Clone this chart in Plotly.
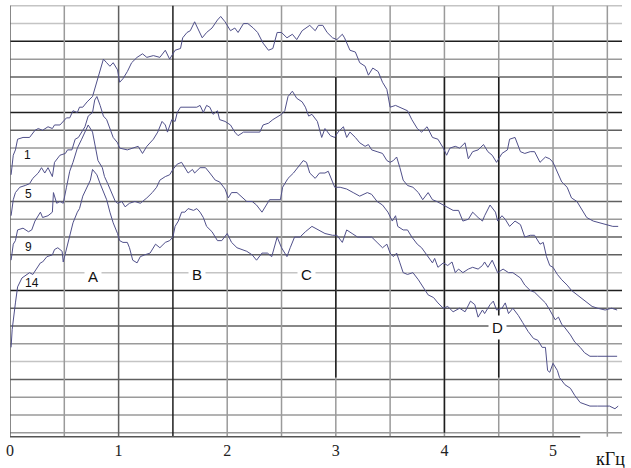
import plotly.graph_objects as go

# spectra: (frequency kHz, level in grid steps)
curve_1 = [(0.01, 14.5), (0.03, 15.6), (0.05, 15.9), (0.07, 16.5), (0.12, 16.6), (0.18, 16.6), (0.23, 17.0),
           (0.26, 17.1), (0.30, 17.0), (0.35, 17.2), (0.39, 17.1), (0.41, 17.3), (0.46, 17.3), (0.49, 17.5),
           (0.52, 17.7), (0.55, 17.7), (0.58, 18.1), (0.62, 18.0), (0.64, 18.3), (0.67, 18.3), (0.71, 18.6),
           (0.76, 18.9), (0.80, 19.7), (0.83, 20.3), (0.86, 21.0), (0.89, 20.8), (0.92, 20.6), (0.95, 20.8),
           (0.99, 20.4), (1.01, 19.7), (1.04, 19.9), (1.08, 20.3), (1.12, 20.8), (1.17, 21.1), (1.22, 21.3),
           (1.26, 21.1), (1.32, 21.2), (1.38, 21.1), (1.43, 21.5), (1.47, 21.0), (1.52, 21.5), (1.57, 21.6),
           (1.59, 22.2), (1.63, 22.5), (1.66, 22.6), (1.70, 23.1), (1.73, 22.75), (1.77, 22.2), (1.81, 22.5),
           (1.86, 22.75), (1.91, 23.2), (1.94, 23.4), (1.98, 23.1), (2.03, 22.6), (2.07, 22.75), (2.10, 22.5),
           (2.15, 23.0), (2.19, 23.0), (2.24, 22.75), (2.28, 22.5), (2.33, 21.9), (2.38, 21.5), (2.42, 21.6),
           (2.46, 22.5), (2.50, 22.5), (2.55, 22.2), (2.60, 22.4), (2.64, 22.1), (2.69, 22.6), (2.73, 22.8),
           (2.76, 22.9), (2.81, 22.6), (2.84, 22.9), (2.88, 22.9), (2.92, 22.5), (2.97, 22.2), (3.01, 22.1),
           (3.06, 22.4), (3.08, 22.2), (3.13, 21.5), (3.18, 21.4), (3.22, 20.8), (3.27, 20.6), (3.30, 20.1),
           (3.34, 20.5), (3.39, 20.3), (3.43, 19.7), (3.47, 19.3), (3.50, 18.3), (3.55, 18.4), (3.59, 18.3),
           (3.66, 18.1), (3.70, 17.6), (3.75, 17.1), (3.79, 16.9), (3.84, 17.2), (3.89, 16.6), (3.94, 16.5),
           (3.99, 16.0), (4.02, 15.6), (4.05, 16.0), (4.10, 16.1), (4.14, 16.0), (4.19, 16.3), (4.22, 15.4),
           (4.26, 15.8), (4.31, 15.9), (4.36, 16.2), (4.40, 15.8), (4.44, 15.6), (4.48, 15.2), (4.53, 15.7),
           (4.58, 15.9), (4.60, 16.5), (4.65, 16.6), (4.70, 15.8), (4.74, 15.7), (4.79, 15.8), (4.83, 15.8),
           (4.88, 15.2), (4.93, 15.5), (4.97, 15.4), (5.00, 15.2), (5.04, 14.6), (5.08, 14.1), (5.13, 13.8),
           (5.17, 13.2), (5.22, 13.0), (5.27, 12.5), (5.31, 12.1), (5.37, 11.9), (5.43, 11.8), (5.50, 11.7),
           (5.55, 11.6), (5.60, 11.6)]

curve_5 = [(0.01, 12.2), (0.03, 13.1), (0.05, 13.5), (0.09, 13.8), (0.14, 13.9), (0.18, 14.0), (0.21, 14.3),
           (0.26, 14.6), (0.29, 14.9), (0.32, 14.6), (0.35, 14.9), (0.39, 14.4), (0.41, 15.2), (0.46, 15.6),
           (0.51, 15.7), (0.53, 15.9), (0.57, 15.9), (0.60, 16.5), (0.63, 16.6), (0.66, 16.9), (0.69, 17.2),
           (0.72, 17.8), (0.76, 18.0), (0.78, 18.7), (0.80, 18.9), (0.83, 18.4), (0.86, 17.8), (0.89, 17.6),
           (0.92, 17.1), (0.95, 16.6), (0.99, 16.3), (1.01, 16.0), (1.08, 15.9), (1.13, 16.0), (1.18, 16.1),
           (1.22, 15.7), (1.26, 16.1), (1.32, 16.5), (1.36, 16.9), (1.40, 17.5), (1.43, 17.3), (1.45, 16.9),
           (1.49, 17.6), (1.52, 17.5), (1.54, 18.0), (1.57, 18.3), (1.59, 18.3), (1.66, 18.3), (1.72, 18.3),
           (1.75, 18.4), (1.78, 18.0), (1.81, 18.4), (1.84, 18.3), (1.87, 17.9), (1.91, 18.1), (1.93, 17.6),
           (1.98, 17.5), (2.03, 17.3), (2.07, 16.9), (2.10, 16.7), (2.15, 16.9), (2.21, 16.9), (2.27, 16.9),
           (2.30, 16.9), (2.33, 17.3), (2.38, 17.4), (2.42, 17.6), (2.47, 17.8), (2.50, 17.9), (2.53, 18.1),
           (2.56, 18.9), (2.60, 19.2), (2.64, 18.8), (2.69, 18.6), (2.72, 18.3), (2.75, 17.8), (2.78, 17.9),
           (2.83, 17.5), (2.87, 16.6), (2.90, 17.1), (2.95, 16.7), (2.99, 16.6), (3.02, 16.9), (3.07, 17.2),
           (3.10, 16.6), (3.13, 16.9), (3.18, 16.6), (3.22, 16.3), (3.27, 16.1), (3.30, 16.2), (3.33, 15.9),
           (3.38, 15.8), (3.43, 15.7), (3.47, 15.3), (3.50, 15.2), (3.53, 15.3), (3.56, 15.5), (3.59, 14.9),
           (3.62, 14.2), (3.66, 13.9), (3.71, 13.8), (3.76, 13.5), (3.80, 13.1), (3.85, 13.5), (3.89, 13.1),
           (3.93, 13.0), (3.99, 12.8), (4.03, 12.7), (4.08, 12.5), (4.13, 12.5), (4.17, 11.9), (4.22, 12.0),
           (4.26, 12.4), (4.31, 12.1), (4.35, 11.9), (4.37, 12.2), (4.42, 12.8), (4.47, 12.4), (4.49, 11.9),
           (4.53, 12.2), (4.56, 12.0), (4.60, 11.6), (4.65, 11.9), (4.70, 11.7), (4.74, 11.0), (4.79, 11.1),
           (4.83, 11.1), (4.88, 10.6), (4.91, 10.7), (4.94, 9.9), (4.97, 9.4), (5.00, 9.3), (5.04, 8.9),
           (5.08, 8.6), (5.13, 8.3), (5.17, 8.0), (5.22, 7.75), (5.27, 7.5), (5.31, 7.3), (5.36, 7.1),
           (5.41, 7.0), (5.48, 6.9), (5.54, 7.0), (5.59, 6.9)]

curve_9 = [(0.01, 9.7), (0.03, 10.6), (0.05, 10.8), (0.07, 11.4), (0.12, 11.5), (0.17, 11.3), (0.20, 11.4),
           (0.23, 11.9), (0.28, 12.4), (0.30, 12.1), (0.35, 12.2), (0.39, 12.4), (0.40, 13.5), (0.43, 12.9),
           (0.46, 13.0), (0.49, 12.9), (0.52, 13.8), (0.55, 14.7), (0.58, 15.2), (0.62, 16.0), (0.66, 16.5),
           (0.69, 16.9), (0.72, 17.3), (0.76, 16.9), (0.78, 16.2), (0.81, 15.3), (0.85, 14.9), (0.87, 14.4),
           (0.90, 14.0), (0.94, 13.4), (0.97, 13.0), (0.99, 12.9), (1.03, 13.0), (1.06, 12.7), (1.10, 12.9),
           (1.15, 13.0), (1.20, 12.9), (1.26, 13.2), (1.31, 13.5), (1.35, 13.8), (1.38, 14.2), (1.43, 14.4),
           (1.47, 14.5), (1.50, 14.8), (1.54, 15.1), (1.58, 15.2), (1.61, 14.9), (1.64, 14.6), (1.68, 14.8),
           (1.70, 14.6), (1.75, 14.9), (1.80, 14.9), (1.84, 14.6), (1.89, 14.2), (1.93, 14.1), (1.98, 13.7),
           (2.01, 13.2), (2.04, 13.5), (2.09, 13.5), (2.14, 13.2), (2.18, 13.0), (2.23, 13.0), (2.27, 12.8),
           (2.32, 12.4), (2.35, 12.7), (2.39, 13.1), (2.44, 13.1), (2.49, 13.1), (2.51, 13.8), (2.56, 14.3),
           (2.61, 14.6), (2.65, 14.9), (2.70, 15.3), (2.73, 15.2), (2.76, 14.6), (2.81, 14.3), (2.85, 14.6),
           (2.90, 14.6), (2.93, 14.7), (2.97, 14.1), (2.99, 13.8), (3.04, 13.8), (3.10, 13.7), (3.16, 13.5),
           (3.22, 13.3), (3.29, 13.5), (3.33, 13.4), (3.38, 13.0), (3.43, 12.8), (3.48, 12.4), (3.52, 11.9),
           (3.55, 12.2), (3.57, 11.6), (3.62, 11.4), (3.66, 11.4), (3.70, 11.0), (3.75, 10.6), (3.79, 10.4),
           (3.84, 10.0), (3.89, 9.55), (3.91, 9.8), (3.94, 9.3), (3.99, 9.55), (4.03, 9.4), (4.07, 9.6),
           (4.10, 9.0), (4.13, 9.2), (4.17, 9.0), (4.22, 9.2), (4.26, 9.3), (4.31, 9.2), (4.35, 9.4),
           (4.37, 9.6), (4.40, 9.3), (4.44, 9.7), (4.47, 9.3), (4.49, 9.0), (4.54, 9.2), (4.59, 9.0),
           (4.63, 9.0), (4.67, 8.8), (4.70, 8.7), (4.74, 8.3), (4.79, 8.0), (4.83, 7.9), (4.88, 7.6),
           (4.93, 7.3), (4.97, 6.9), (5.02, 6.35), (5.05, 6.5), (5.08, 6.1), (5.11, 5.9), (5.16, 5.5),
           (5.20, 5.1), (5.25, 4.8), (5.29, 4.5), (5.34, 4.3), (5.41, 4.3), (5.46, 4.3), (5.52, 4.3), (5.59, 4.3)]

curve_14 = [(0.01, 4.8), (0.02, 5.8), (0.05, 7.3), (0.07, 8.2), (0.11, 8.7), (0.16, 8.9), (0.18, 9.0),
            (0.21, 8.9), (0.25, 9.3), (0.28, 9.55), (0.30, 9.6), (0.34, 9.9), (0.39, 10.0), (0.41, 10.3),
            (0.44, 10.4), (0.48, 10.2), (0.49, 9.6), (0.52, 10.3), (0.55, 11.0), (0.58, 11.8), (0.62, 12.4),
            (0.64, 12.6), (0.67, 13.3), (0.71, 13.8), (0.74, 14.2), (0.76, 14.8), (0.80, 14.5), (0.83, 14.0),
            (0.86, 13.5), (0.89, 13.1), (0.92, 12.4), (0.95, 11.8), (0.99, 11.2), (1.01, 10.8), (1.04, 10.7),
            (1.08, 10.7), (1.10, 10.4), (1.13, 9.7), (1.17, 9.55), (1.20, 9.9), (1.24, 10.0), (1.29, 10.1),
            (1.34, 10.6), (1.38, 10.4), (1.43, 10.7), (1.47, 10.8), (1.50, 11.0), (1.52, 11.6), (1.55, 11.9),
            (1.58, 12.4), (1.61, 12.4), (1.64, 12.6), (1.69, 12.5), (1.72, 12.6), (1.75, 12.4), (1.78, 12.1),
            (1.81, 11.6), (1.86, 11.3), (1.91, 10.8), (1.95, 10.8), (2.00, 11.2), (2.04, 10.7), (2.09, 10.4),
            (2.14, 10.3), (2.18, 10.2), (2.23, 10.0), (2.27, 9.7), (2.32, 10.1), (2.37, 10.1), (2.41, 9.9),
            (2.46, 11.0), (2.50, 10.4), (2.55, 9.9), (2.58, 10.4), (2.62, 11.0), (2.67, 11.0), (2.72, 11.3),
            (2.78, 11.6), (2.84, 11.4), (2.90, 11.2), (2.97, 11.1), (3.01, 11.1), (3.06, 10.7), (3.10, 11.4),
            (3.15, 11.2), (3.20, 11.0), (3.24, 11.0), (3.29, 11.0), (3.33, 11.0), (3.38, 10.7), (3.43, 10.4),
            (3.47, 10.6), (3.50, 10.1), (3.53, 9.9), (3.56, 10.1), (3.59, 9.55), (3.62, 9.0), (3.66, 8.9),
            (3.71, 9.0), (3.76, 8.6), (3.80, 8.2), (3.85, 7.75), (3.90, 7.6), (3.94, 7.3), (3.99, 7.0),
            (4.03, 7.1), (4.08, 6.8), (4.14, 7.0), (4.19, 6.8), (4.24, 7.4), (4.28, 7.2), (4.31, 6.5),
            (4.35, 6.9), (4.37, 6.7), (4.42, 7.2), (4.45, 7.4), (4.48, 6.9), (4.53, 7.0), (4.56, 7.3),
            (4.59, 6.7), (4.63, 7.0), (4.68, 6.6), (4.72, 6.2), (4.77, 5.7), (4.82, 5.3), (4.86, 5.2),
            (4.90, 4.8), (4.93, 4.8), (4.95, 3.5), (4.97, 3.4), (5.00, 3.9), (5.04, 3.5), (5.06, 3.1),
            (5.11, 2.7), (5.16, 2.5), (5.20, 2.1), (5.25, 1.7), (5.29, 1.6), (5.34, 1.5), (5.41, 1.5),
            (5.46, 1.5), (5.52, 1.5), (5.57, 1.35), (5.60, 1.5)]

curve_names = ['1', '5', '9', '14']
curve_label_pos = [(0.16, 15.6), (0.17, 13.4), (0.17, 10.45), (0.20, 8.4)]

region_names = ['A', 'B', 'C', 'D']
region_pos = [(0.76, 8.8), (1.72, 8.9), (2.73, 8.9), (4.49, 5.9)]

freq_ticks = [0, 1, 2, 3, 4, 5]

LINE = '#50508a'
BLACK, DARK, GRAY, LIGHT = '#1e1e1e', '#606060', '#9a9a9a', '#c4c4c4'

fig = go.Figure()
for name, pts in zip(curve_names, [curve_1, curve_5, curve_9, curve_14]):
    fig.add_trace(go.Scatter(
        x=[p[0] for p in pts], y=[p[1] for p in pts],
        mode='lines', name=name,
        line=dict(color=LINE, width=1),
        showlegend=False,
    ))

# horizontal grid, level 0..24, colour per line (scanned paper grid)
h_styles = {24: LIGHT, 23: LIGHT, 22: BLACK, 21: GRAY, 20: DARK, 19: GRAY, 18: BLACK, 17: DARK,
            16: GRAY, 15: GRAY, 14: GRAY, 13: DARK, 12: GRAY, 11: DARK, 10: DARK, 9: LIGHT,
            8: BLACK, 7: DARK, 6: DARK, 5: GRAY, 4: LIGHT, 3: DARK, 2: GRAY, 1: GRAY, 0: GRAY}
shapes = []
for lvl, col in h_styles.items():
    shapes.append(dict(type='line', xref='x', yref='y', x0=0, x1=5.64, y0=lvl, y1=lvl,
                       line=dict(color=col, width=1.5), layer='below'))

# vertical grid every 0.5 kHz, with darker runs where the scan shows them
v_base = {0: DARK, 0.5: GRAY, 1: DARK, 1.5: BLACK, 2: GRAY, 2.5: GRAY, 3: GRAY,
          3.5: GRAY, 4: GRAY, 4.5: GRAY, 5: GRAY, 5.5: GRAY}
v_dark = {3: (3.1, 20), 4: (0, 20), 4.5: (3.1, 20)}
for f, col in v_base.items():
    shapes.append(dict(type='line', xref='x', yref='y', x0=f, x1=f, y0=-0.22, y1=24,
                       line=dict(color=col, width=1.5), layer='below'))
for f, (a, b) in v_dark.items():
    shapes.append(dict(type='line', xref='x', yref='y', x0=f, x1=f, y0=a, y1=b,
                       line=dict(color=BLACK, width=1.5), layer='below'))
# axis base line
shapes.append(dict(type='line', xref='x', yref='y', x0=0, x1=5.25, y0=-0.22, y1=-0.22,
                   line=dict(color='#555555', width=1.5)))

annotations = []
for name, (x, y) in zip(curve_names, curve_label_pos):
    annotations.append(dict(x=x, y=y, text=name, showarrow=False,
                            font=dict(family='Liberation Sans', size=12, color='#111')))
for name, (x, y) in zip(region_names, region_pos):
    annotations.append(dict(x=x, y=y, text=name, showarrow=False, bgcolor='white', borderpad=3,
                            font=dict(family='Liberation Sans', size=15, color='#111')))
annotations.append(dict(xref='paper', yref='paper', x=0.955, y=-0.045, xanchor='left', yanchor='middle',
                        text='кГц', showarrow=False,
                        font=dict(family='Liberation Serif', size=18, color='#111')))

fig.update_layout(
    width=631, height=468,
    margin=dict(l=10, r=9, t=4, b=29, autoexpand=False),
    paper_bgcolor='white', plot_bgcolor='white',
    shapes=shapes, annotations=annotations,
    xaxis=dict(range=[0, 5.635], showgrid=False, zeroline=False, showline=False, automargin=False,
               tickvals=freq_ticks, ticktext=[str(t) for t in freq_ticks], ticks='',
               tickfont=dict(family='Liberation Serif', size=16, color='#222')),
    yaxis=dict(range=[-0.35, 24.1], showgrid=False, zeroline=False, showline=False, automargin=False,
               showticklabels=False, ticks=''),
)

# page body margin would shift the figure by 8px
fig.write_html("out.html", config={'displayModeBar': False},
               post_script="document.body.style.margin='0';")
